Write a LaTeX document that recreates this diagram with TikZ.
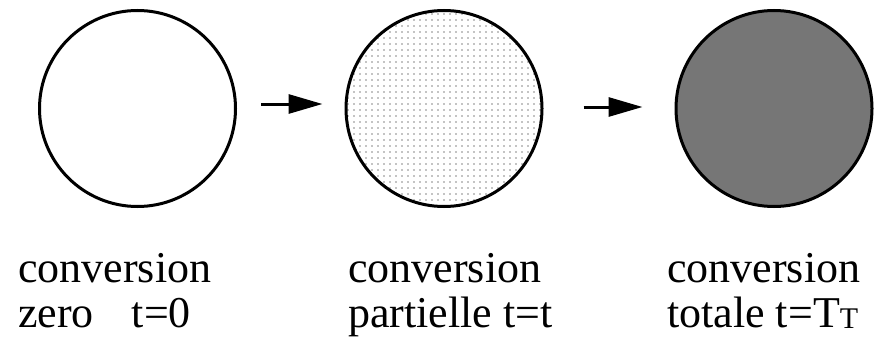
\documentclass[tikz,border=0pt]{standalone}
\usepackage{fontspec}
\setmainfont{Liberation Serif}
\usetikzlibrary{arrows.meta,patterns.meta}
\definecolor{shadegray}{RGB}{118,118,118}

\begin{document}
\begin{tikzpicture}[x=1pt, y=1pt,
  grain/.style={circle, draw, line width=3pt, minimum size=196pt, inner sep=0pt},
  flow/.style={line width=3pt, -{Triangle[length=34pt, width=19pt]}},
  caption/.style={font=\fontsize{44}{45}\selectfont, anchor=base west, inner sep=0pt}]
  \useasboundingbox (0,0) rectangle (874,338);
  % Grains
  \node[grain] (zero) at (137.5,229.5) {};
  \node[grain, pattern={Dots[distance=6pt, radius=0.6pt]}] (part) at (444,229.5) {};
  \node[grain, fill=shadegray] (full) at (774,229.5) {};
  % Arrows
  \draw[flow] ([shift={(24,4.5)}]zero.east) -- ([shift={(-22,4.5)}]part.west);
  \draw[flow] ([shift={(40,1.5)}]part.east) -- ([shift={(-32,1.5)}]full.west);
  % Captions
  \foreach \x/\name/\state in {18/zero/zero\hspace{38pt}t=0, 348/part/partielle t=t, 667/full/totale t=T\raisebox{-1.5pt}{\fontsize{30}{30}\selectfont T}} {
    \node[caption] (conv-\name) at (\x,56) {conversion};
    \node[caption] (time-\name) at (\x,11) {\state};
  }
\end{tikzpicture}
\end{document}
